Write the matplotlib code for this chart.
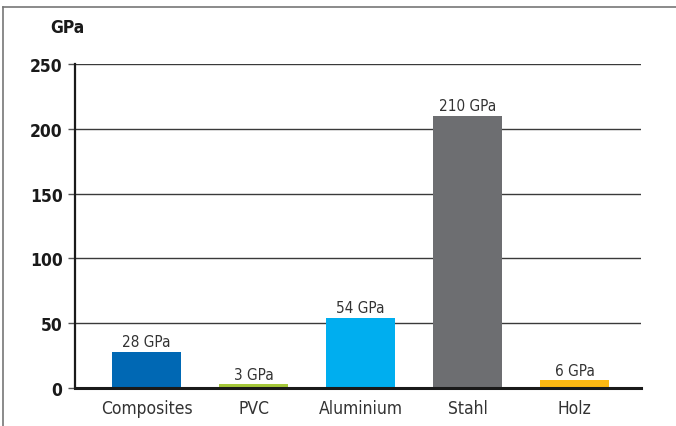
import matplotlib.pyplot as plt
from matplotlib.lines import Line2D

# Young's modulus of common construction materials
materials = ["Composites", "PVC", "Aluminium", "Stahl", "Holz"]
modulus_gpa = [28, 3, 54, 210, 6]
bar_colors = ["#0068b4", "#a5c83a", "#00aeef", "#6d6e71", "#fdb913"]
y_ticks = [0, 50, 100, 150, 200, 250]

plt.rcParams["font.family"] = ["DejaVu Sans"]
plt.rcParams["font.stretch"] = "condensed"

fig = plt.figure(figsize=(6.76, 4.27), dpi=100)
ax = fig.add_axes([75 / 676, 38 / 427, 566 / 676, 324 / 427])

x = range(len(materials))
ax.bar(x, modulus_gpa, width=0.645, color=bar_colors, zorder=3)
for xi, v in zip(x, modulus_gpa):
    ax.text(xi, v + 2, f"{v} GPa", ha="center", va="bottom",
            fontsize=11, color="#333333", zorder=4)

ax.set_xlim(-0.668, 4.62)
ax.set_ylim(0, 250)
ax.set_yticks(y_ticks)
ax.set_yticklabels([str(t) for t in y_ticks], fontweight="bold",
                   fontsize=12.5, color="#1a1a1a")
ax.set_xticks(list(x))
ax.set_xticklabels(materials, fontsize=12.5, color="#333333")
ax.tick_params(axis="x", length=0, pad=8)
ax.tick_params(axis="y", length=5, width=1, color="#555555", pad=4)
ax.yaxis.grid(True, color="#3a3a3a", linewidth=1.0, zorder=1)
ax.set_axisbelow(True)

for side in ("top", "right"):
    ax.spines[side].set_visible(False)
ax.spines["left"].set_linewidth(1.6)
ax.spines["left"].set_color("#1a1a1a")
ax.spines["bottom"].set_linewidth(2.2)
ax.spines["bottom"].set_color("#1a1a1a")
ax.spines["bottom"].set_zorder(5)

fig.text(50 / 676, 1 - 28 / 427, "GPa", fontweight="bold", fontsize=12.5,
         color="#1a1a1a", va="center", ha="left")

# outer frame: top and left edge only
fig.add_artist(Line2D([3 / 676, 1], [1 - 8 / 427, 1 - 8 / 427],
                      transform=fig.transFigure, color="#777777", linewidth=1.2))
fig.add_artist(Line2D([3 / 676, 3 / 676], [0, 1 - 8 / 427],
                      transform=fig.transFigure, color="#777777", linewidth=1.2))

fig.savefig("out.png", dpi=100)
